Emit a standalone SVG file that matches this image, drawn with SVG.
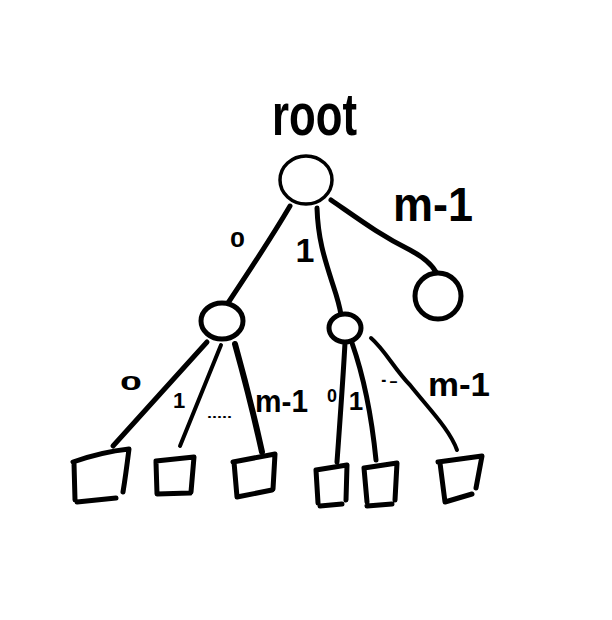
<svg xmlns="http://www.w3.org/2000/svg" width="612" height="620" viewBox="0 0 612 620">
<style>
.s{fill:none;stroke:#000;stroke-width:5;stroke-linecap:round;stroke-linejoin:round}
.n{fill:#fff;stroke:#000;stroke-width:5}
.t{font-family:"Liberation Sans",Arial,sans-serif;font-weight:bold;fill:#000}
</style>
<rect width="612" height="620" fill="#fff"/>
<g id="connectors">
<path class="s" d="M290,206 C270,240 250,270 228,303"/>
<path class="s" d="M317,208 C318,240 325,260 333,285 C338,300 340,308 341,315"/>
<path class="s" d="M331,200 C360,220 380,235 410,250 C425,258 432,265 436,272"/>
<path class="s" d="M207,342 L113,446"/>
<path class="s" d="M221,345 L180,446" style="stroke-width:4"/>
<path class="s" d="M235,344 C245,380 255,420 262,452" style="stroke-width:6"/>
<path class="s" d="M345,343 C343,380 340,420 337,462"/>
<path class="s" d="M352,343 C365,380 372,420 376,460"/>
<path class="s" d="M371,338 C385,350 395,370 410,385 C430,410 450,430 457,450" style="stroke-width:4"/>
</g>
<g id="root"><ellipse class="n" cx="306" cy="180" rx="26" ry="24" style="stroke-width:3.5"/></g>
<g id="n0"><ellipse class="n" cx="222" cy="321" rx="21" ry="18"/></g>
<g id="n1"><ellipse class="n" cx="345" cy="328" rx="16" ry="14"/></g>
<g id="n2"><ellipse class="n" cx="438" cy="296" rx="23" ry="23"/></g>
<g id="b1"><path class="s" d="M73,462 C90,456 110,451 129,449 C127,465 125,480 123,492 M74,463 L75,500 M77,502 L116,498"/></g>
<g id="b2"><path class="s" d="M156,462 L157,494 L190,493 M156,461 L194,457 L191,492"/></g>
<g id="b3"><path class="s" d="M233,462 L275,454 L273,489 M234,462 L237,497 L272,490"/></g>
<g id="b4"><path class="s" d="M316,470 L347,465 L346,500 M316,470 L318,503 M320,506 L342,504"/></g>
<g id="b5"><path class="s" d="M364,468 L397,463 L395,500 M364,468 L367,502 M367,506 L392,504"/></g>
<g id="b6"><path class="s" d="M438,462 L482,456 L476,488 M440,463 L445,502 L472,494"/></g>
<g id="labels">
<text class="t" x="272" y="135" font-size="60" textLength="85" lengthAdjust="spacingAndGlyphs">root</text>
<text class="t" x="230" y="247" font-size="22" textLength="15" lengthAdjust="spacingAndGlyphs">0</text>
<text class="t" x="305" y="262" font-size="34" text-anchor="middle">1</text>
<text class="t" x="393" y="221" font-size="48" textLength="80" lengthAdjust="spacingAndGlyphs">m-1</text>
<text class="t" x="120" y="390" font-size="21" textLength="22" lengthAdjust="spacingAndGlyphs">0</text>
<text class="t" x="179" y="408" font-size="22" text-anchor="middle">1</text>
<text class="t" x="207" y="418" font-size="12" textLength="25" lengthAdjust="spacingAndGlyphs">.....</text>
<text class="t" x="255" y="412" font-size="32" textLength="53" lengthAdjust="spacingAndGlyphs">m-1</text>
<text class="t" x="327" y="402" font-size="19" textLength="10" lengthAdjust="spacingAndGlyphs">0</text>
<text class="t" x="356" y="410" font-size="26" text-anchor="middle">1</text>
<text class="t" x="380" y="386" font-size="14" textLength="18" lengthAdjust="spacingAndGlyphs">·-</text>
<text class="t" x="428" y="396" font-size="34" textLength="62" lengthAdjust="spacingAndGlyphs">m-1</text>
</g>
</svg>
